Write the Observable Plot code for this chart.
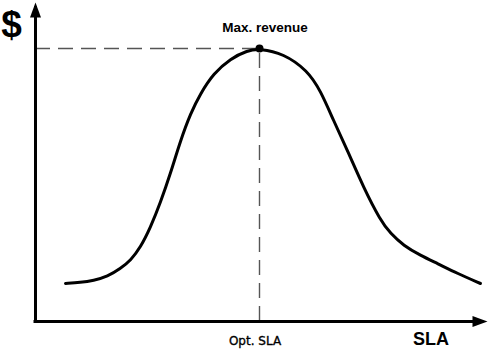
<!DOCTYPE html>
<html>
<head>
<meta charset="utf-8">
<script src="https://cdn.jsdelivr.net/npm/d3@7"></script>
<script src="https://cdn.jsdelivr.net/npm/@observablehq/plot@0.6"></script>
<style>
  html, body { margin: 0; padding: 0; background: #fff; }
  #chart svg { display: block; }
</style>
</head>
<body>
<div id="chart"></div>
<script>
// Service level (x) vs revenue (y), in chart units with origin at the axis corner
const sla = [30, 45, 58, 72, 85, 95, 105, 115, 125, 135, 145, 155, 165, 178, 195, 212, 224, 248, 272, 285, 298, 312, 328, 345, 355, 368, 385, 402, 422, 445];
const revenue = [38, 39, 41, 45, 53, 61, 74, 94, 119, 148, 181, 208, 228, 248, 263, 271, 273, 268, 251, 231, 201, 171, 134, 101, 88, 76, 66, 58, 48, 38];
const optSLA = 224;
const maxRevenue = 273;
const axisEndX = 452;
const axisEndY = 319;
const labels = { y: "$", x: "SLA", opt: "Opt. SLA", max: "Max. revenue" };

const curve = sla.map((s, i) => ({ sla: s, revenue: revenue[i] }));

const arrowHead = {
  draw(ctx) {
    ctx.moveTo(0, 0);
    ctx.lineTo(5.5, 15);
    ctx.lineTo(-5.5, 15);
    ctx.closePath();
  }
};

const chart = Plot.plot({
  width: 489,
  height: 356,
  margin: 0,
  x: { domain: [-35, 454], axis: null },
  y: { domain: [-35, 321], axis: null },
  style: { background: "#fff" },
  marks: [
    Plot.ruleY([maxRevenue], { x1: 0, x2: optSLA, stroke: "#555", strokeWidth: 1.4, strokeDasharray: "15,8" }),
    Plot.ruleX([optSLA], { y1: 0, y2: maxRevenue, stroke: "#555", strokeWidth: 1.4, strokeDasharray: "15,8" }),
    Plot.ruleX([0], { y1: 0, y2: axisEndY - 4, stroke: "black", strokeWidth: 3 }),
    Plot.ruleY([0], { x1: -1.5, x2: axisEndX - 4, stroke: "black", strokeWidth: 3 }),
    Plot.dot([{ x: 0, y: axisEndY }], { x: "x", y: "y", symbol: arrowHead, fill: "black", stroke: "none" }),
    Plot.dot([{ x: axisEndX, y: 0 }], { x: "x", y: "y", symbol: arrowHead, rotate: 90, fill: "black", stroke: "none" }),
    Plot.line(curve, { x: "sla", y: "revenue", curve: "basis", stroke: "black", strokeWidth: 3 }),
    Plot.dot([{ x: optSLA, y: maxRevenue }], { x: "x", y: "y", r: 4, fill: "black", stroke: "none" }),
    Plot.text([labels.y], { x: -24, y: 296, text: d => d, fontSize: 37, fontWeight: "bold", fontFamily: "Liberation Sans, Arial, sans-serif", fill: "black" }),
    Plot.text([labels.max], { x: 229.5, y: 293.5, text: d => d, fontSize: 13.5, fontWeight: "bold", fontFamily: "Liberation Sans, Arial, sans-serif", fill: "black" }),
    Plot.text([labels.x], { x: 395.5, y: -17.5, text: d => d, fontSize: 18, fontWeight: "bold", fontFamily: "Liberation Sans, Arial, sans-serif", fill: "black" }),
    Plot.text([labels.opt], { x: 219.5, y: -19.5, text: d => d, fontSize: 12, fontFamily: "DejaVu Sans, Verdana, sans-serif", fill: "black", stroke: "black", strokeWidth: 0.35 })
  ]
});
document.getElementById("chart").appendChild(chart);
</script>
</body>
</html>
